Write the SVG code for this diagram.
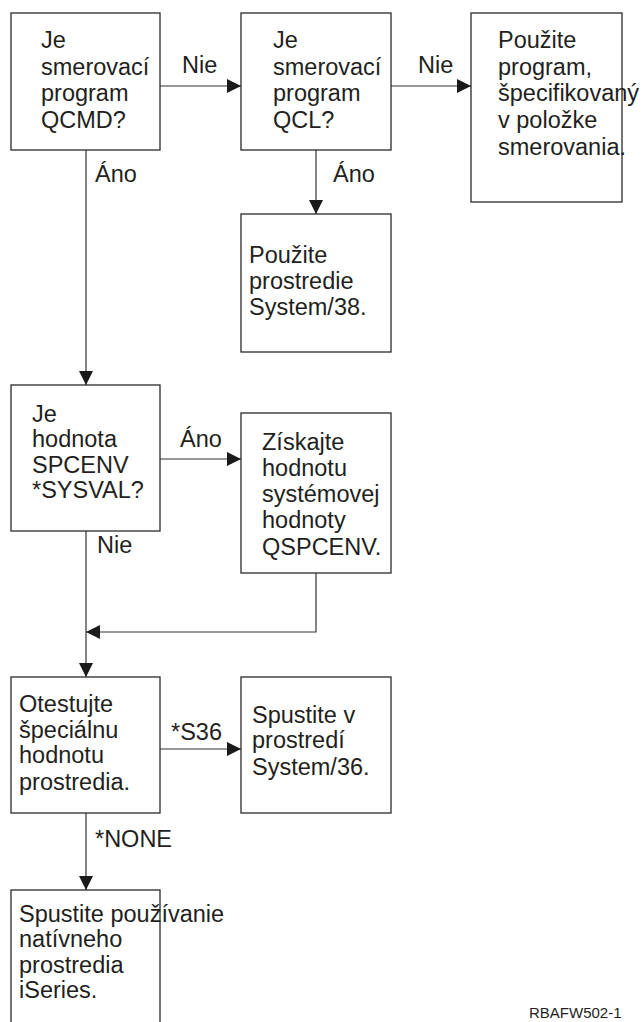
<svg xmlns="http://www.w3.org/2000/svg" width="643" height="1022" viewBox="0 0 643 1022">
<style>
.box{fill:#fff;stroke:#2a2a2a;stroke-width:1.3}
.t{font-family:"Liberation Sans",Arial,sans-serif;font-size:23.5px;fill:#231f20}
.lbl{font-family:"Liberation Sans",Arial,sans-serif;font-size:23.5px;fill:#231f20}
.ft{font-family:"Liberation Sans",Arial,sans-serif;font-size:15px;fill:#231f20}
.c{fill:none;stroke:#333;stroke-width:1.2;marker-end:url(#ah)}
</style>
<defs>
<marker id="ah" viewBox="0 0 14 14" refX="14" refY="7" markerWidth="14" markerHeight="14" markerUnits="userSpaceOnUse" orient="auto">
<path d="M0,0 L14,7 L0,14 Z" fill="#1a1a1a"/>
</marker>
</defs>
<rect width="643" height="1022" fill="#fff"/>
<g id="connectors">
<path class="c" d="M160,86 H241"/>
<path class="c" d="M391,86 H471"/>
<path class="c" d="M316,150 V214"/>
<path class="c" d="M86,150 V385"/>
<path class="c" d="M160,459 H241"/>
<path class="c" d="M316,573 V632 H86"/>
<path class="c" d="M86,531 V677"/>
<path class="c" d="M160,749 H241"/>
<path class="c" d="M86,813 V890"/>
<text class="lbl" x="182" y="73">Nie</text>
<text class="lbl" x="418" y="73">Nie</text>
<text class="lbl" x="95" y="182">Áno</text>
<text class="lbl" x="333" y="182">Áno</text>
<text class="lbl" x="180" y="447">Áno</text>
<text class="lbl" x="97" y="553">Nie</text>
<text class="lbl" x="171" y="740">*S36</text>
<text class="lbl" x="95" y="847">*NONE</text>
</g>
<g id="n1">
<rect class="box" x="11" y="13" width="149" height="137"/>
<text class="t"><tspan x="41" y="48">Je</tspan><tspan x="41" y="75">smerovací</tspan><tspan x="41" y="101">program</tspan><tspan x="41" y="128">QCMD?</tspan></text>
</g>
<g id="n2">
<rect class="box" x="241" y="13" width="150" height="137"/>
<text class="t"><tspan x="273" y="48">Je</tspan><tspan x="273" y="75">smerovací</tspan><tspan x="273" y="101">program</tspan><tspan x="273" y="128">QCL?</tspan></text>
</g>
<g id="n3">
<rect class="box" x="471" y="13" width="151" height="189"/>
<text class="t"><tspan x="498" y="48">Použite</tspan><tspan x="498" y="75">program,</tspan><tspan x="498" y="101">špecifikovaný</tspan><tspan x="498" y="128">v položke</tspan><tspan x="498" y="155">smerovania.</tspan></text>
</g>
<g id="n4">
<rect class="box" x="241" y="214" width="150" height="138"/>
<text class="t"><tspan x="249" y="263">Použite</tspan><tspan x="249" y="289">prostredie</tspan><tspan x="249" y="315">System/38.</tspan></text>
</g>
<g id="n5">
<rect class="box" x="11" y="385" width="149" height="146"/>
<text class="t"><tspan x="32" y="422">Je</tspan><tspan x="32" y="447">hodnota</tspan><tspan x="32" y="473">SPCENV</tspan><tspan x="32" y="498">*SYSVAL?</tspan></text>
</g>
<g id="n6">
<rect class="box" x="241" y="413" width="150" height="160"/>
<text class="t"><tspan x="262" y="450">Získajte</tspan><tspan x="262" y="476">hodnotu</tspan><tspan x="262" y="502">systémovej</tspan><tspan x="262" y="528">hodnoty</tspan><tspan x="262" y="555">QSPCENV.</tspan></text>
</g>
<g id="n7">
<rect class="box" x="11" y="677" width="149" height="136"/>
<text class="t"><tspan x="19" y="712">Otestujte</tspan><tspan x="19" y="738">špeciálnu</tspan><tspan x="19" y="763">hodnotu</tspan><tspan x="19" y="790">prostredia.</tspan></text>
</g>
<g id="n8">
<rect class="box" x="241" y="677" width="150" height="136"/>
<text class="t"><tspan x="252" y="723">Spustite v</tspan><tspan x="252" y="748">prostredí</tspan><tspan x="252" y="775">System/36.</tspan></text>
</g>
<g id="n9">
<rect class="box" x="11" y="890" width="149" height="145"/>
<text class="t"><tspan x="19" y="922">Spustite používanie</tspan><tspan x="19" y="947">natívneho</tspan><tspan x="19" y="973">prostredia</tspan><tspan x="19" y="998">iSeries.</tspan></text>
</g>
<text class="ft" x="529" y="1018">RBAFW502-1</text>
</svg>
